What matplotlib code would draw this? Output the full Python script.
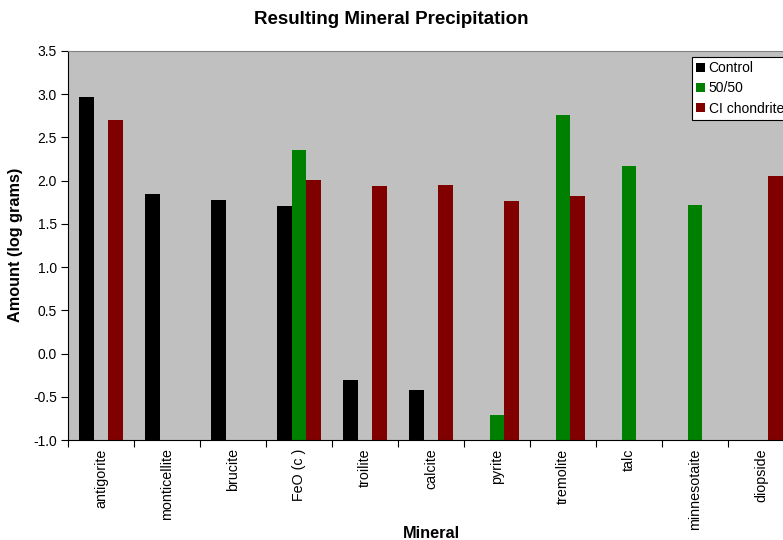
import numpy as np
import matplotlib
matplotlib.use("Agg")
import matplotlib.pyplot as plt

plt.rcParams['font.family'] = ['Liberation Sans', 'DejaVu Sans']

minerals = ["antigorite", "monticellite", "brucite", "FeO (c )", "troilite",
            "calcite", "pyrite", "tremolite", "talc", "minnesotaite", "diopside"]
control = [2.97, 1.85, 1.78, 1.71, -0.31, -0.42, None, None, None, None, None]
fifty_fifty = [None, None, None, 2.36, None, None, -0.71, 2.76, 2.17, 1.72, None]
ci_chondrite = [2.70, None, None, 2.01, 1.94, 1.95, 1.77, 1.82, None, None, 2.05]

series = [("Control", control, "#000000"),
          ("50/50", fifty_fifty, "#008000"),
          ("CI chondrite", ci_chondrite, "#800000")]

fig = plt.figure(figsize=(7.83, 5.40), dpi=100)
W, H = 783, 540
left, right, top, bottom = 68, 794, 51, 440
ax = fig.add_axes([left / W, 1 - bottom / H, (right - left) / W, (bottom - top) / H])
ax.set_facecolor("#C0C0C0")

base = -1.0
width = 1 / 4.5
x = np.arange(len(minerals))
for i, (name, vals, col) in enumerate(series):
    xs = [xi for xi, v in zip(x, vals) if v is not None]
    hs = [v - base for v in vals if v is not None]
    pos = np.array(xs) + (i - 1) * width
    ax.bar(pos, hs, width=width, bottom=base, color=col, label=name, linewidth=0)

ax.set_xlim(-0.5, len(minerals) - 0.5)
ax.set_ylim(-1.0, 3.5)
ax.set_yticks(np.arange(-1.0, 3.51, 0.5))
ax.set_yticklabels(["%.1f" % v for v in np.arange(-1.0, 3.51, 0.5)], fontsize=10)

# category boundary ticks, labels centred between them
ax.set_xticks(np.arange(-0.5, len(minerals), 1.0))
ax.set_xticklabels([])
ax.set_xticks(x, minor=True)
ax.set_xticklabels(minerals, minor=True, rotation=90, fontsize=10.3)
ax.tick_params(axis="x", which="major", direction="out", length=5, color="#000000")
ax.tick_params(axis="x", which="minor", length=0, pad=6)
ax.tick_params(axis="y", direction="out", length=5, color="#000000", pad=3)

ax.spines["top"].set_color("#808080")
ax.spines["right"].set_color("#808080")
ax.spines["left"].set_color("#000000")
ax.spines["bottom"].set_color("#000000")

fig.text(391 / W, 1 - 20 / H, "Resulting Mineral Precipitation", ha="center", va="center",
         fontsize=13.5, fontweight="bold")
fig.text(16 / W, 1 - 245 / H, "Amount (log grams)", ha="center", va="center",
         rotation=90, fontsize=11.7, fontweight="bold")
fig.text(431 / W, 1 - 533 / H, "Mineral", ha="center", va="center",
         fontsize=11.7, fontweight="bold")

leg = ax.legend(loc="upper left", bbox_to_anchor=(692 / W, 1 - 57 / H),
                bbox_transform=fig.transFigure, fontsize=10, frameon=True,
                fancybox=False, framealpha=1, edgecolor="#000000",
                handlelength=0.6, handleheight=0.6, handletextpad=0.3,
                labelspacing=0.45, borderpad=0.3, borderaxespad=0)
leg.get_frame().set_linewidth(0.8)

fig.savefig("out.png", dpi=100)
